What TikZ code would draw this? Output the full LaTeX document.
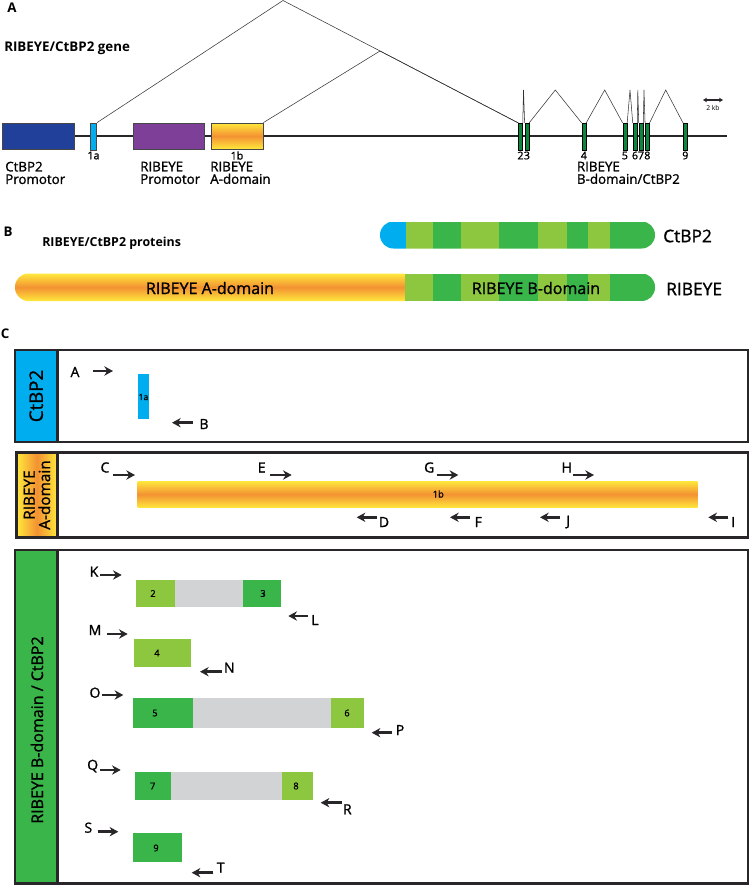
\documentclass[tikz,border=0pt]{standalone}
\usepackage{fontspec}
\setmainfont{Open Sans}
\newfontfamily\semi{Open Sans}[FakeBold=1.2]
\usetikzlibrary{arrows.meta,positioning}
\definecolor{navy}{RGB}{33,64,154}
\definecolor{sky}{RGB}{0,174,239}
\definecolor{plum}{RGB}{125,63,152}
\definecolor{sun}{RGB}{255,232,60}
\definecolor{tang}{RGB}{243,146,50}
\definecolor{pine}{RGB}{10,135,60}
\definecolor{lime}{RGB}{141,198,63}
\definecolor{grass}{RGB}{57,181,74}
\definecolor{fog}{RGB}{209,211,212}
\definecolor{ink}{RGB}{40,38,40}
\tikzset{
  x=0.75pt,y=-0.75pt,
  gene/.style={draw=ink!85,fill=#1,line width=0.6pt,inner sep=0pt,minimum height=19.5pt},
  gene/.default=navy,
  adombox/.style={draw=ink!85,line width=0.6pt,inner sep=0pt,minimum height=19.5pt,
    top color=sun,bottom color=sun,middle color=tang},
  exon/.style={draw=black,fill=pine,line width=0.4pt,inner sep=0pt,minimum width=3pt,minimum height=20pt},
  splice/.style={draw=black!80,line width=0.4pt},
  lab/.style={font=\semi\fontsize{10}{9.4}\selectfont,align=left,anchor=north west,inner sep=0pt},
  num/.style={font=\semi\fontsize{#1}{#1}\selectfont,inner sep=0pt},
  num/.default=8,
  tiny/.style={font=\fontsize{5}{5}\selectfont,inner sep=0pt},
  head/.style={font=\bfseries\fontsize{10}{10}\selectfont,inner sep=0pt},
  title/.style={font=\bfseries\fontsize{#1}{#1}\selectfont,anchor=west,inner sep=0pt},
  prot/.style={font=\semi\fontsize{#1}{#1}\selectfont,inner sep=0pt},
  frame/.style={draw=ink,line width=2.2pt},
  side/.style={rotate=90,font=\semi\fontsize{#1}{#1}\selectfont,align=center,inner sep=0pt},
  lett/.style={font=\semi\fontsize{10.5}{10.5}\selectfont,inner sep=0pt},
  fwd/.style={-{Stealth[length=6.5pt,width=7pt]},line width=1.9pt,draw=ink},
}
\begin{document}
\begin{tikzpicture}
\useasboundingbox (0,0) rectangle (750,885);
% ---------- A: gene
\node[head] (la) at (12,8) {A};
\node[title=10] (gname) at (4,48) {RIBEYE/CtBP2 gene};
\draw[line width=1.3pt,ink] (2,136) -- (727,136);
\node[gene=navy,minimum width=53.5pt] (cpro) at (38.3,136) {};
\node[gene=sky,minimum width=4.5pt,minimum height=20.3pt] (e1a) at (93.7,136.5) {};
\node[gene=plum,minimum width=53.3pt] (rpro) at (168.5,136) {};
\node[adombox,minimum width=39pt] (e1b) at (237,136) {};
\foreach \n/\x in {2/520.5,3/526.9,4/583.9,5/624.9,6/635,7/641,8/647.3,9/685.3}{
  \node[exon] (e\n) at (\x,136.5) {};
  \node[num] (n\n) at (\x,155.5) {\n};
}
\node[num] (n1a) at (93.5,155.5) {1a};
\node[num] (n1b) at (237,155.5) {1b};
% splicing
\draw[splice] (e1a.north east) -- (283,0.5) -- (e2.north west);
\draw[splice] (e1b.north east) -- (380,51) -- (e2.north west);
\draw[splice] (e2.north east) -- (523.5,90) -- (e3.north west);
\draw[splice] (e3.north east) -- (555.3,90) -- (e4.north west);
\draw[splice] (e4.north east) -- (604.7,90) -- (e5.north west);
\draw[splice] (e5.north east) -- (630,90) -- (e6.north west);
\draw[splice] (e6.north east) -- (637.8,90) -- (e7.north west);
\draw[splice] (e7.north east) -- (644,90) -- (e8.north west);
\draw[splice] (e8.north east) -- (665.7,90) -- (e9.north west);
\coordinate (kb1) at (703,100);
\coordinate (kb2) at (723,100);
\draw[{Stealth[length=3pt,width=3.5pt]}-{Stealth[length=3pt,width=3.5pt]},line width=0.9pt,ink] (kb1) -- (kb2);
\node[tiny] (kb) at (713,108) {2 kb};
\node[lab] (tcpro) at (5,161.5) {CtBP2\\Promotor};
\node[lab] (trpro) at (140,161.5) {RIBEYE\\Promotor};
\node[lab] (tadom) at (210,161.5) {RIBEYE\\A-domain};
\node[lab] (tbdom) at (576.7,161.5) {RIBEYE\\B-domain/CtBP2};
% ---------- B: proteins
\node[head] (lb) at (8,232) {B};
\node[title=9.3] (pname) at (42,243) {RIBEYE/CtBP2 proteins};
\begin{scope}
  \clip[rounded corners=10pt] (380,221.5) rectangle (655,248.5);
  \fill[sky] (380,221.5) rectangle (406,248.5);
  \foreach \a/\b/\c in {405.9/432.8/lime,432.8/461.2/grass,461.2/499.3/lime,499.3/538/grass,
      538/566.8/lime,566.8/587.8/grass,587.8/609.8/lime,609.8/656/grass}
    \fill[\c] (\a,221.5) rectangle (\b,248.5);
\end{scope}
\begin{scope}
  \clip[rounded corners=10pt] (15,273.5) rectangle (655,301);
  \shade[top color=sun,bottom color=sun,middle color=tang] (15,273.5) rectangle (404.6,301);
  \foreach \a/\b/\c in {404.5/432.8/lime,432.8/461.2/grass,461.2/499.3/lime,499.3/538/grass,
      538/566.8/lime,566.8/587.8/grass,587.8/609.8/lime,609.8/656/grass}
    \fill[\c] (\a,273.5) rectangle (\b,301);
\end{scope}
\node[prot=12] (adom) at (210,288) {RIBEYE A-domain};
\node[prot=12] (bdom) at (536,288) {RIBEYE B-domain};
\node[prot=13,anchor=west] (pctbp) at (663,236) {CtBP2};
\node[prot=13,anchor=west] (prib) at (666,289) {RIBEYE};
% ---------- C: primers
\node[head] (lc) at (5,334) {C};
% CtBP2
\draw[frame] (15,350) rectangle (748,442);
\filldraw[frame,fill=sky] (15,350) rectangle (57.3,442);
\node[side=14] (sctbp) at (36.2,396) {CtBP2};
\fill[sky] (137.7,374.3) rectangle (149.3,419.3);
\node[num=6.5] (x1a) at (143.5,397) {1a};
\node[lett] (pA) at (75,372) {A};
\draw[fwd] (93,371) -- (113,371);
\node[lett] (pB) at (204,424) {B};
\draw[fwd] (193,422.7) -- (172,422.7);
% RIBEYE A-domain
\draw[frame] (16.7,452.7) rectangle (748,537.5);
\shade[left color=sun,right color=sun,middle color=tang] (16.7,452.7) rectangle (57.3,537.5);
\draw[frame] (16.7,452.7) rectangle (57.3,537.5);
\node[side=11.5] (sadom) at (37,495) {RIBEYE\\A-domain};
\shade[top color=sun,bottom color=sun,middle color=tang] (137.7,481) rectangle (697.7,507.7);
\node[num=7] (x1b) at (438.3,494) {1b};
\foreach \l/\x/\xa/\xb in {C/105/113.3/135,E/261.7/270/291.7,G/429.3/436.7/458.3,H/566.7/572.7/594}{
  \node[lett] (p\l) at (\x,467.5) {\l};
  \draw[fwd] (\xa,475) -- (\xb,475);
}
\foreach \l/\x/\xa/\xb in {D/384/376.7/356.7,F/478.3/470/450,J/568.3/560/540,I/733.3/728.3/708.3}{
  \node[lett] (p\l) at (\x,522) {\l};
  \draw[fwd] (\xa,517.3) -- (\xb,517.3);
}
% RIBEYE B-domain / CtBP2
\draw[frame] (15,550) rectangle (748,883.3);
\filldraw[frame,fill=grass] (15,550) rectangle (57.3,883.3);
\node[side=12] (sbdom) at (37,730) {RIBEYE B-domain / CtBP2};
% exons 2/3
\fill[lime] (136,580) rectangle (175,606.7);
\fill[fog] (175,580) rectangle (242.7,606.7);
\fill[grass] (242.7,580) rectangle (281,606.7);
% exon 4
\fill[lime] (134.3,639.3) rectangle (191,666.7);
% exons 5/6
\fill[grass] (133,698.3) rectangle (192.7,727.7);
\fill[fog] (192.7,698.3) rectangle (330.7,727.7);
\fill[lime] (330.7,698.3) rectangle (364.3,727.7);
% exons 7/8
\fill[grass] (135,771.7) rectangle (171,800);
\fill[fog] (171,771.7) rectangle (281.7,800);
\fill[lime] (281.7,771.7) rectangle (313.3,800);
% exon 9
\fill[grass] (133.3,833.3) rectangle (182.3,862.3);
\foreach \n/\x/\y in {2/153/593.5,3/263/593.5,4/157/653,5/155/713,6/347/713,7/152.7/786,8/296/786,9/156/848}
  \node[num=7] (x\n) at (\x,\y) {\n};
\foreach \l/\x/\y/\xa/\xb/\ya in {K/94/571.7/100/121.7/575,M/95/630/106.7/127.7/634,
    O/95/692.7/101.7/123.3/695,Q/92.7/766/100/120.7/770,S/88.3/827.7/97.7/118.3/831.7}{
  \node[lett] (p\l) at (\x,\y) {\l};
  \draw[fwd] (\xa,\ya) -- (\xb,\ya);
}
\foreach \l/\x/\y/\xa/\xb/\ya in {L/315/620/308.3/288.3/616,N/229.3/667.7/221.7/200/671.7,
    P/400/730/391.7/371.7/732.7,R/347.3/809.3/341.7/320.7/802.7,T/220.7/867.7/213.3/191.7/872.7}{
  \node[lett] (p\l) at (\x,\y) {\l};
  \draw[fwd] (\xa,\ya) -- (\xb,\ya);
}
\end{tikzpicture}
\end{document}
